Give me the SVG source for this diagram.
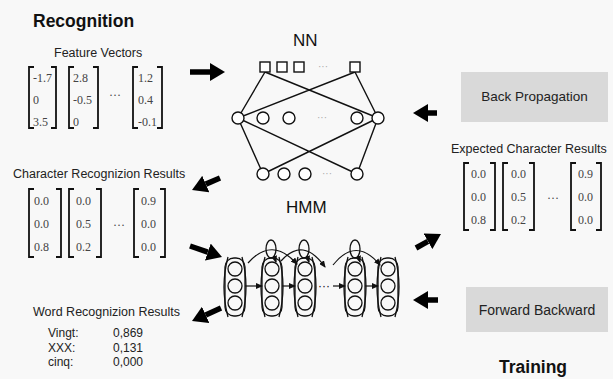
<svg xmlns="http://www.w3.org/2000/svg" width="613" height="379" viewBox="0 0 613 379">
<defs>
<style>
.lbl{font-family:"Liberation Sans",Arial,sans-serif;font-size:12.5px;fill:#222}
.ttl{font-family:"Liberation Sans",Arial,sans-serif;font-size:17.5px;font-weight:bold;fill:#111}
.big{font-family:"Liberation Sans",Arial,sans-serif;font-size:17px;fill:#111}
.val{font-family:"Liberation Serif","Times New Roman",serif;font-size:12px;fill:#444}
.br{fill:none;stroke:#111;stroke-width:1.8}
.box{fill:#d9d9d9}
.net{fill:none;stroke:#111;stroke-width:1.4}
.nd{fill:#fff;stroke:#111;stroke-width:1.4}
.hm{fill:none;stroke:#111;stroke-width:1.3}
.dots{font-family:"Liberation Sans",Arial,sans-serif;font-size:10px;fill:#aaa}
.big-arrow{stroke:#000;stroke-width:5.5;fill:none}
.sm{stroke:#111;stroke-width:1.2;fill:none}
</style>
<marker id="ah" markerUnits="userSpaceOnUse" markerWidth="16" markerHeight="18" refX="0" refY="9" orient="auto" viewBox="0 0 16 18"><path d="M0 0 L15 9 L0 18 Z" fill="#000"/></marker>
<marker id="sa" markerUnits="userSpaceOnUse" markerWidth="7" markerHeight="6" refX="6" refY="3" orient="auto" viewBox="0 0 7 6"><path d="M0 0 L7 3 L0 6 Z" fill="#111"/></marker>
</defs>
<rect width="613" height="379" fill="#f8f8f8"/>

<g id="title-recognition"><text class="ttl" x="33" y="27">Recognition</text></g>

<g id="feature-vectors">
<text class="lbl" x="54" y="57">Feature Vectors</text>
<path class="br" d="M34 67H29V128H34M51 67H56V128H51"/>
<path class="br" d="M74 67H69V128H74M93 67H98V128H93"/>
<path class="br" d="M138 67H133V128H138M157 67H162V128H157"/>
<text class="val" x="33" y="82">-1.7</text><text class="val" x="33" y="104">0</text><text class="val" x="33" y="126">3.5</text>
<text class="val" x="73" y="82">2.8</text><text class="val" x="73" y="104">-0.5</text><text class="val" x="73" y="126">0</text>
<text class="val" x="138" y="82">1.2</text><text class="val" x="138" y="104">0.4</text><text class="val" x="138" y="126">-0.1</text>
<text class="val" x="109" y="99">···</text>
</g>

<g id="nn">
<text class="big" x="293" y="46">NN</text>
<path class="net" d="M265 72L238 118M265 72L378 118M355 72L238 118M355 72L378 118M238 118L263 174M238 118L357 174M378 118L263 174M378 118L357 174"/>
<rect class="nd" x="260" y="62" width="10" height="10"/>
<rect class="nd" x="277" y="62" width="10" height="10"/>
<rect class="nd" x="294" y="62" width="10" height="10"/>
<rect class="nd" x="350" y="62" width="10" height="10"/>
<text class="dots" x="318" y="70">···</text>
<circle class="nd" cx="238" cy="118" r="6"/>
<circle class="nd" cx="263" cy="118" r="6"/>
<circle class="nd" cx="289" cy="118" r="6"/>
<circle class="nd" cx="357" cy="118" r="6"/>
<circle class="nd" cx="378" cy="118" r="6"/>
<text class="dots" x="317" y="121">···</text>
<circle class="nd" cx="263" cy="174" r="6"/>
<circle class="nd" cx="284" cy="174" r="6"/>
<circle class="nd" cx="305" cy="174" r="6"/>
<circle class="nd" cx="357" cy="174" r="6"/>
<text class="dots" x="322" y="177">···</text>
</g>

<g id="char-results">
<text class="lbl" x="13" y="178">Character Recognizion Results</text>
<path class="br" d="M34 189H29V257H34M56 189H61V257H56"/>
<path class="br" d="M74 189H69V257H74M96 189H101V257H96"/>
<path class="br" d="M139 189H134V257H139M160 189H165V257H160"/>
<text class="val" x="34" y="205">0.0</text><text class="val" x="34" y="228">0.0</text><text class="val" x="34" y="251">0.8</text>
<text class="val" x="76" y="205">0.0</text><text class="val" x="76" y="228">0.5</text><text class="val" x="76" y="251">0.2</text>
<text class="val" x="141" y="205">0.9</text><text class="val" x="141" y="228">0.0</text><text class="val" x="141" y="251">0.0</text>
<text class="val" x="113" y="229">···</text>
</g>

<g id="hmm">
<text class="big" x="286" y="213">HMM</text>
<g id="hmm-col1">
<rect class="hm" x="225" y="258" width="20" height="58" rx="9"/>
<path class="hm" d="M228 257Q220 287 228 317M242 257Q250 287 242 317"/>
<circle class="hm" cx="235" cy="269" r="7"/><circle class="hm" cx="235" cy="286" r="7"/><circle class="hm" cx="235" cy="303" r="7"/>
</g>
<g id="hmm-col2">
<rect class="hm" x="262" y="258" width="20" height="58" rx="9"/>
<path class="hm" d="M265 257Q257 287 265 317M279 257Q287 287 279 317"/>
<circle class="hm" cx="272" cy="269" r="7"/><circle class="hm" cx="272" cy="286" r="7"/><circle class="hm" cx="272" cy="303" r="7"/>
<ellipse class="hm" cx="271" cy="249" rx="5" ry="9"/>
</g>
<g id="hmm-col3">
<rect class="hm" x="295" y="258" width="20" height="58" rx="9"/>
<path class="hm" d="M298 257Q290 287 298 317M312 257Q320 287 312 317"/>
<circle class="hm" cx="305" cy="269" r="7"/><circle class="hm" cx="305" cy="286" r="7"/><circle class="hm" cx="305" cy="303" r="7"/>
<ellipse class="hm" cx="304" cy="249" rx="5" ry="9"/>
</g>
<g id="hmm-col4">
<rect class="hm" x="345" y="258" width="20" height="58" rx="9"/>
<path class="hm" d="M348 257Q340 287 348 317M362 257Q370 287 362 317"/>
<circle class="hm" cx="355" cy="269" r="7"/><circle class="hm" cx="355" cy="286" r="7"/><circle class="hm" cx="355" cy="303" r="7"/>
<ellipse class="hm" cx="355" cy="249" rx="5" ry="9"/>
</g>
<g id="hmm-col5">
<rect class="hm" x="378" y="258" width="20" height="58" rx="9"/>
<path class="hm" d="M381 257Q373 287 381 317M395 257Q403 287 395 317"/>
<circle class="hm" cx="388" cy="269" r="7"/><circle class="hm" cx="388" cy="286" r="7"/><circle class="hm" cx="388" cy="303" r="7"/>
</g>
<text x="318" y="290" style="font-family:'Liberation Sans',Arial,sans-serif;font-size:12px;fill:#111">···</text>
<g id="hmm-transitions">
<path class="sm" marker-end="url(#sa)" d="M274 256L276 262"/>
<path class="sm" marker-end="url(#sa)" d="M307 256L309 262"/>
<path class="sm" marker-end="url(#sa)" d="M358 256L360 262"/>
<path class="sm" marker-end="url(#sa)" d="M248 263Q272 236 297 264"/>
<path class="sm" marker-end="url(#sa)" d="M281 261Q303 236 325 267"/>
<path class="sm" marker-end="url(#sa)" d="M333 265Q356 236 380 265"/>
<path class="sm" marker-end="url(#sa)" d="M245 286H262"/>
<path class="sm" marker-end="url(#sa)" d="M282 286H295"/>
<path class="sm" marker-end="url(#sa)" d="M333 286H345"/>
<path class="sm" marker-end="url(#sa)" d="M365 286H378"/>
</g>
</g>

<g id="word-results">
<text class="lbl" x="33" y="316">Word Recognizion Results</text>
<text class="lbl" x="48" y="337" style="font-size:12px">Vingt:</text><text class="lbl" x="113" y="337" style="font-size:12px">0,869</text>
<text class="lbl" x="48" y="352" style="font-size:12px">XXX:</text><text class="lbl" x="113" y="352" style="font-size:12px">0,131</text>
<text class="lbl" x="48" y="366" style="font-size:12px">cinq:</text><text class="lbl" x="113" y="366" style="font-size:12px">0,000</text>
</g>

<g id="back-propagation">
<rect class="box" x="461" y="72" width="147" height="50"/>
<text class="lbl" x="534.5" y="101" text-anchor="middle" style="font-size:13.5px">Back Propagation</text>
</g>

<g id="expected-results">
<text class="lbl" x="451" y="153">Expected Character Results</text>
<path class="br" d="M469 163H464V230H469M490 163H495V230H490"/>
<path class="br" d="M508 163H503V230H508M529 163H534V230H529"/>
<path class="br" d="M576 163H571V230H576M596 163H601V230H596"/>
<text class="val" x="471" y="178">0.0</text><text class="val" x="471" y="201">0.0</text><text class="val" x="471" y="224">0.8</text>
<text class="val" x="511" y="178">0.0</text><text class="val" x="511" y="201">0.5</text><text class="val" x="511" y="224">0.2</text>
<text class="val" x="578" y="178">0.9</text><text class="val" x="578" y="201">0.0</text><text class="val" x="578" y="224">0.0</text>
<text class="val" x="547" y="202">···</text>
</g>

<g id="forward-backward">
<rect class="box" x="466" y="287" width="142" height="45"/>
<text class="lbl" x="537" y="315" text-anchor="middle" style="font-size:14px">Forward Backward</text>
</g>

<g id="title-training"><text class="ttl" x="499" y="373">Training</text></g>

<g id="connectors">
<line class="big-arrow" marker-end="url(#ah)" x1="190" y1="72" x2="210" y2="72"/>
<line class="big-arrow" marker-end="url(#ah)" x1="437" y1="113" x2="428" y2="113"/>
<line class="big-arrow" marker-end="url(#ah)" x1="220" y1="178" x2="205.8" y2="184.1"/>
<line class="big-arrow" marker-end="url(#ah)" x1="190" y1="246" x2="207.8" y2="252.1"/>
<line class="big-arrow" marker-end="url(#ah)" x1="416" y1="248" x2="427.9" y2="241.3"/>
<line class="big-arrow" marker-end="url(#ah)" x1="438" y1="300" x2="428" y2="300"/>
<line class="big-arrow" marker-end="url(#ah)" x1="221" y1="308" x2="205.7" y2="314.9"/>
</g>
</svg>
